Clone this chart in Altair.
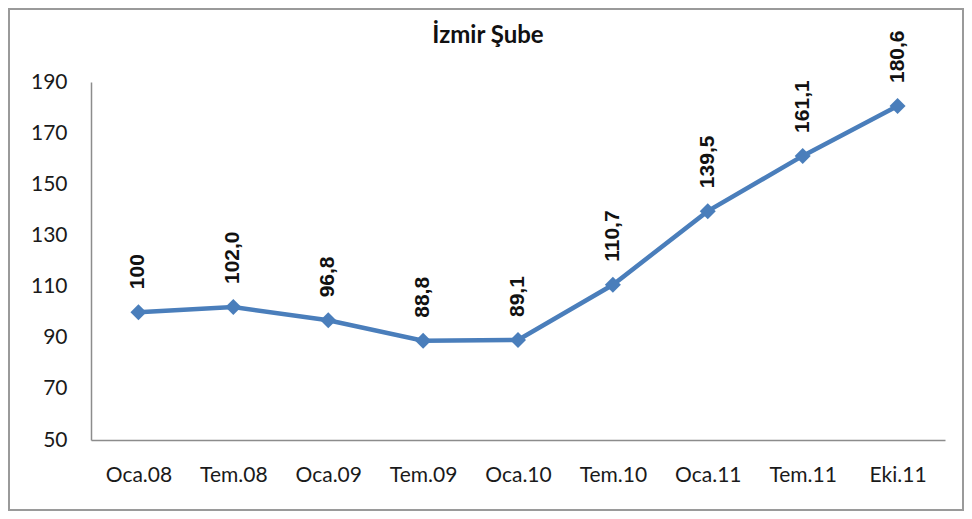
import altair as alt
import pandas as pd

categories = ["Oca.08", "Tem.08", "Oca.09", "Tem.09", "Oca.10", "Tem.10", "Oca.11", "Tem.11", "Eki.11"]
values = [100, 102.0, 96.8, 88.8, 89.1, 110.7, 139.5, 161.1, 180.6]
labels = ["100", "102,0", "96,8", "88,8", "89,1", "110,7", "139,5", "161,1", "180,6"]
y_ticks = [50, 70, 90, 110, 130, 150, 170, 190]
title_text = "İzmir Şube"

df = pd.DataFrame({"cat": categories, "val": values, "lab": labels})

W, H = 854, 358
PL, PT, PR, PB = 83, 74, 19, 71
BLUE = "#4A7EBB"

x = alt.X("cat:N", sort=categories, title=None,
          scale=alt.Scale(type="point", padding=0.5),
          axis=alt.Axis(labelAngle=0, ticks=False, domainColor="#8c8c8c", domainWidth=1.5,
                        labelPadding=24, labelFontSize=21, labelFont="Lato", labelColor="#1a1a1a",
                        grid=False))
y = alt.Y("val:Q", title=None,
          scale=alt.Scale(domain=[50, 190], nice=False, zero=False),
          axis=alt.Axis(values=y_ticks, ticks=False, domainColor="#8c8c8c", domainWidth=1.5,
                        labelPadding=24, labelFontSize=21, labelFont="Lato", labelColor="#1a1a1a",
                        grid=False))

base = alt.Chart(df)

one = pd.DataFrame({"t": [title_text]})
border = alt.Chart(one).mark_rect(
    fill=None, stroke="#9a9a9a", strokeWidth=2
).encode(
    x=alt.value(-PL + 1), x2=alt.value(W + PR - 1),
    y=alt.value(-PT + 1), y2=alt.value(H + PB - 1)
)

title = alt.Chart(one).mark_text(
    font="Lato", fontSize=24, fontWeight="bold", color="#111",
    align="center", baseline="middle"
).encode(x=alt.value(488 - 91), y=alt.value(36 - 82), text="t:N")

line = base.mark_line(color=BLUE, strokeWidth=4.5).encode(x=x, y=y)
pts = base.mark_point(shape="diamond", filled=True, size=256, color=BLUE, opacity=1).encode(x=x, y=y)
txt = base.mark_text(angle=270, align="left", baseline="middle", dx=23,
                     font="Liberation Sans", fontWeight="bold", fontSize=21, color="#111").encode(
    x=x, y=y, text="lab:N")

chart = alt.layer(border, title, line, pts, txt).properties(
    width=W, height=H,
    padding={"left": PL, "top": PT, "right": PR, "bottom": PB},
    autosize=alt.AutoSizeParams(type="none"),
).configure_view(stroke=None)

chart.save("out.html", embed_options={"renderer": "svg", "actions": False})
